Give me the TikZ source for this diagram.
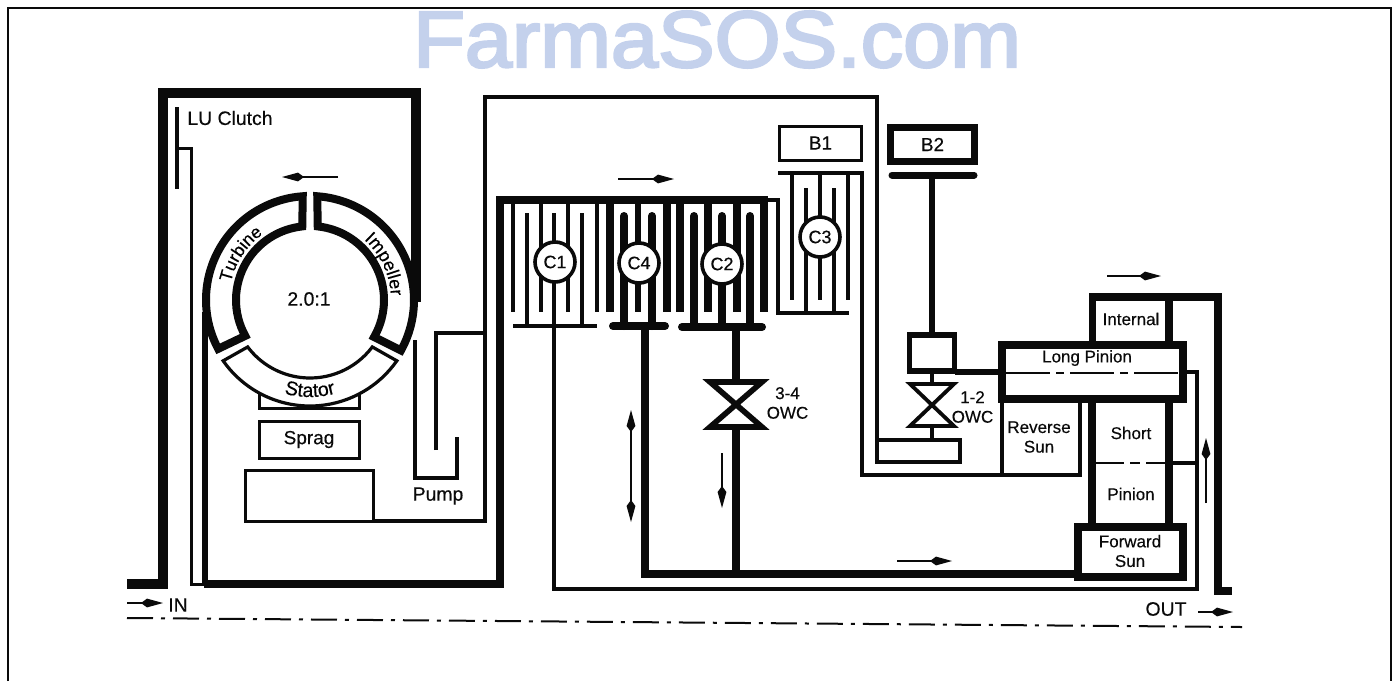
\documentclass[tikz,border=0pt]{standalone}
\usepackage{fontspec}
\usepackage{graphicx}
\setmainfont[FakeBold=0.35]{Liberation Sans}
\newfontfamily\markfont[FakeBold=3]{Liberation Sans}
\usetikzlibrary{arrows.meta,decorations.text,calc}
\tikzset{
  hair/.style={line width=1pt,draw=inkc},
  thinl/.style={line width=1.6pt,draw=inkc,line join=miter},
  thickl/.style={line width=4pt,draw=inkc,line join=miter},
  headk/.tip={Kite[length=11pt,width=4.4pt,inset=3pt]},
  flow/.style={line width=1.1pt,draw=inkc,-headk},
  flowtwo/.style={line width=1.1pt,draw=inkc,headk-headk},
  lab/.style={inner sep=0pt,font=\fontsize{9.7}{11}\selectfont,text=inkc},
  labs/.style={inner sep=0pt,font=\fontsize{8.5}{9.8}\selectfont,text=inkc,align=center},
  clutchc/.style={circle,draw=inkc,fill=white,line width=1.8pt,minimum size=20pt,inner sep=0pt,font=\fontsize{9}{11}\selectfont,text=inkc},
  boxl/.style={draw=inkc,fill=white,line width=1.5pt,inner sep=0pt,font=\fontsize{9.5}{11}\selectfont,text=inkc},
  owc/.style={draw=inkc,fill=white,line join=miter,miter limit=10},
}
\definecolor{inkc}{HTML}{0A0A0A}
\definecolor{markc}{HTML}{C4D1EC}
\begin{document}
\begin{tikzpicture}[x=0.5pt,y=-0.5pt]
\useasboundingbox (0,0) rectangle (1397,681);
% watermark
\node[inner sep=0pt,text=markc,font=\fontsize{40}{44}\markfont] (mark) at (717,39.5) {\scalebox{1.06}[1]{FarmaSOS.com}};
% frame
\draw[line width=1pt,draw=inkc] (8,681) -- (8,8) -- (1391,8) -- (1391,681);
% centre line
\coordinate (cla) at (127,618);
\coordinate (clb) at (1242,627);
\draw[line width=1pt,draw=inkc,dash pattern=on 13pt off 4pt on 2pt off 4pt] (cla) -- (clb);

% converter housing
\draw[line width=4.6pt,draw=inkc,line join=miter] (127,584) -- (163,584) -- (163,93) -- (416,93) -- (416,302);
\draw[line width=3.4pt,draw=inkc] (205,312) -- (205,584);
\draw[thickl] (204,584) -- (500,584) -- (500,200) -- (768,200);
% LU clutch
\draw[line width=1.8pt,draw=inkc] (177,107) -- (177,189);
\draw[hair,line width=1.5pt] (177,148) -- (191,148) -- (191,584) -- (204,584);
% stator support, sprag, blank
\node[boxl,minimum width=50pt,minimum height=7pt] (sup) at (309,401.5) {};
\node[boxl,minimum width=50pt,minimum height=18.5pt] (sprag) at (309,439.5) {Sprag};
\node[boxl,minimum width=64pt,minimum height=25.5pt] (hubbox) at (309,495.5) {};
% torus
\coordinate (tc) at (310,300);
\begin{scope}[shift={(tc)},x=0.5pt,y=0.5pt]
  \draw[line width=4pt,draw=inkc,fill=white,line join=miter] (94:104) arc[start angle=94,end angle=208,radius=104] -- (209:74) arc[start angle=209,end angle=96,radius=74] -- cycle;
  \draw[line width=4pt,draw=inkc,fill=white,line join=miter] (86:104) arc[start angle=86,end angle=-29,radius=104] -- (-30:74) arc[start angle=-30,end angle=84,radius=74] -- cycle;
  \draw[thinl,fill=white] (215:106) arc[start angle=215,end angle=325,radius=106] -- (323:78) arc[start angle=323,end angle=217,radius=78] -- cycle;
  \path[decorate,decoration={text along path,text align=center,text={|\fontsize{8.8}{10}\selectfont|Turbine}}] (170:81) arc[start angle=170,end angle=123,radius=81];
  \path[decorate,decoration={text along path,text align=center,text={|\fontsize{9}{10}\selectfont|Impeller}}] (51:81) arc[start angle=51,end angle=0,radius=81];
  \path[decorate,decoration={text along path,text align=center,text={|\fontsize{9.8}{10}\selectfont|Stator}}] (250:97) arc[start angle=250,end angle=290,radius=97];
\end{scope}
\node[lab] (ratio) at (309,299) {2.0:1};
\node[lab,anchor=west] (lu) at (187,118) {LU Clutch};
\node[lab] (pump) at (438,496) {Pump};
\node[lab] (in) at (178,605) {IN};
\node[lab] (out) at (1166,609) {OUT};

% pump and long outer shell
\draw[thinl] (415,340) -- (415,478) -- (457,478) -- (457,437);
\draw[thinl] (436,450) -- (436,333) -- (485,333);
\draw[thinl] (373,521) -- (485,521) -- (485,97) -- (877,97) -- (877,462) -- (960,462) -- (960,440) -- (877,440);

% C1
\coordinate (c1bar) at (554,326);
\foreach \x in {513,541,568,597}{\draw[thinl] (\x,202) -- (\x,312);}
\foreach \x in {527,554,582}{\draw[thinl] (\x,326) -- (\x,213);}
\draw[thinl] (513,326) -- (597,326);
\node[clutchc] (c1) at (555,262) {C1};
% C4
\foreach \x in {610,667}{\draw[line width=4pt,draw=inkc] (\x,202) -- (\x,312);}
\draw[line width=3pt,draw=inkc] (638,202) -- (638,312);
\foreach \x in {624,652}{\draw[line width=4pt,draw=inkc,line cap=round] (\x,326) -- (\x,216);}
\draw[line width=4pt,draw=inkc,line cap=round] (613,326) -- (665,326);
\node[clutchc] (c4) at (639,263) {C4};
% C2
\foreach \x in {680,708,737,764}{\draw[line width=4pt,draw=inkc] (\x,202) -- (\x,312);}
\foreach \x in {694,722,750}{\draw[line width=4pt,draw=inkc,line cap=round] (\x,326) -- (\x,216);}
\draw[line width=4pt,draw=inkc,line cap=round] (682,327) -- (762,327);
\node[clutchc] (c2) at (722,264) {C2};
% C3 and B1
\draw[thinl] (768,200) -- (778,200) -- (778,313) -- (849,313);
\draw[thinl] (778,173) -- (862,173) -- (862,475) -- (1002,475);
\foreach \x in {792,820,848}{\draw[thinl] (\x,173) -- (\x,300);}
\foreach \x in {806,834}{\draw[thinl] (\x,313) -- (\x,188);}
\node[clutchc] (c3) at (820,237) {C3};
\node[boxl,minimum width=41pt,minimum height=17pt] (b1) at (820.5,143) {B1};
% B2
\node[draw=inkc,line width=3.6pt,inner sep=0pt,minimum width=42pt,minimum height=17pt,font=\fontsize{9.5}{11}\selectfont,text=inkc] (b2) at (932.5,144.5) {B2};
\coordinate (b2bar) at (932,175);
\draw[line width=3.5pt,draw=inkc,line cap=round] (892,175) -- (974,175);
\node[draw=inkc,line width=2.6pt,inner sep=0pt,minimum width=22.5pt,minimum height=18pt] (carrier) at (932,353) {};
\draw[line width=3pt,draw=inkc] (b2bar) -- (carrier.north);
% stems
\draw[hair,line width=1.8pt] (c1bar) -- (554,589) -- (1197,589) -- (1197,372) -- (1180,372);
\draw[thickl] (645,326) -- (645,574) -- (1078,574);
\draw[thickl] (736,327) -- (736,382);
\draw[thickl] (736,427) -- (736,574);
% 3-4 OWC
\draw[owc,line width=2.8pt] (710,382) -- (762,382) -- (710,427) -- (762,427) -- cycle;
\node[labs] (owcc) at (787.5,403) {3-4\\OWC};
% 1-2 OWC
\draw[line width=2pt,draw=inkc] (carrier.south) -- (932,383);
\draw[line width=2pt,draw=inkc] (932,427) -- (932,440);
\draw[owc,line width=1.9pt] (910,384) -- (954,384) -- (910,426) -- (954,426) -- cycle;
\node[labs] (owcd) at (972.5,407) {1-2\\OWC};

% planetary
\draw[line width=2.6pt,draw=inkc] (955,372) -- (1002,372);
\draw[line width=3.6pt,draw=inkc,line join=miter] (1092.5,345) -- (1092.5,297) -- (1218,297) -- (1218,591) -- (1232,591);
\draw[line width=3.6pt,draw=inkc] (1169,297) -- (1169,345);
\draw[line width=4pt,draw=inkc,fill=white,line join=miter] (1002,345) rectangle (1183,399);
\draw[hair,dash pattern=on 22pt off 3pt on 4pt off 3pt] (1006,373) -- (1180,373);
\draw[thinl] (1002,403) -- (1002,475) -- (1080,475) -- (1080,403);
\draw[line width=3.7pt,draw=inkc] (1092,403) -- (1092,523);
\draw[line width=3.7pt,draw=inkc] (1169,403) -- (1169,523);
\draw[hair,dash pattern=on 14pt off 3pt on 5pt off 3pt] (1096,463) -- (1165,463);
\draw[thinl] (1171,463) -- (1197,463);
\draw[line width=4pt,draw=inkc,fill=white,line join=miter] (1078,527) rectangle (1183,577);
\node[labs] (internal) at (1131,319) {Internal};
\node[labs] (longp) at (1087,358) {Long Pinion};
\node[labs] (revs) at (1039,437) {Reverse\\Sun};
\node[labs] (short) at (1131,433) {Short};
\node[labs] (pinion) at (1131,494) {Pinion};
\node[labs] (fwds) at (1130,551) {Forward\\Sun};

% flow arrows
\coordinate (a1) at (338,177); \coordinate (a2) at (282,177);
\draw[flow] (a1) -- (a2);
\coordinate (a3) at (618,179); \coordinate (a4) at (674,179);
\draw[flow] (a3) -- (a4);
\coordinate (a5) at (1107,276); \coordinate (a6) at (1161,276);
\draw[flow] (a5) -- (a6);
\coordinate (a7) at (897,561); \coordinate (a8) at (952,561);
\draw[flow] (a7) -- (a8);
\coordinate (a9) at (1206,503); \coordinate (a10) at (1206,438);
\draw[flow] (a9) -- (a10);
\coordinate (a11) at (1198,612); \coordinate (a12) at (1233,612);
\draw[flow] (a11) -- (a12);
\coordinate (a13) at (127,603); \coordinate (a14) at (163,603);
\draw[flow] (a13) -- (a14);
\coordinate (a15) at (631,410); \coordinate (a16) at (631,522);
\draw[flowtwo] (a15) -- (a16);
\coordinate (a17) at (722,453); \coordinate (a18) at (722,508);
\draw[flow] (a17) -- (a18);
\end{tikzpicture}
\end{document}
